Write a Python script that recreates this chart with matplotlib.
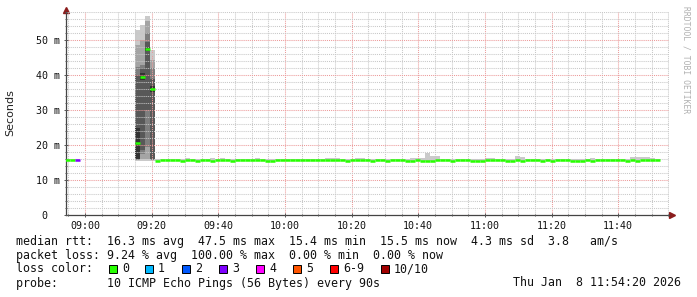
import numpy as np
import matplotlib
matplotlib.use("Agg")
import matplotlib.pyplot as plt
import matplotlib.dates as mdates
from matplotlib.ticker import MultipleLocator
from matplotlib.patches import Rectangle
from matplotlib.transforms import IdentityTransform
from datetime import datetime, timedelta

W, H = 697, 297

# time axis
t_axis = datetime(2026, 1, 8, 8, 54, 20)
t_first = datetime(2026, 1, 8, 8, 54, 2)
step_s = 90

nan = np.nan

# median rtt per 90s step (ms), nan = no answer
median = [
    15.7, 15.7, 15.7, nan, nan, nan, nan, nan, nan, nan,
    nan, nan, nan, nan, 20.5, 39.5, 47.4, 36.1, 15.3, 15.7,
    15.7, 15.7, 15.7, 15.3, 15.7, 15.7, 15.3, 15.7, 15.7, 15.3,
    15.7, 15.7, 15.7, 15.3, 15.7, 15.7, 15.7, 15.7, 15.7, 15.7,
    15.3, 15.3, 15.7, 15.7, 15.7, 15.7, 15.7, 15.7, 15.7, 15.7,
    15.7, 15.7, 15.7, 15.7, 15.7, 15.7, 15.3, 15.7, 15.7, 15.7,
    15.7, 15.3, 15.7, 15.7, 15.3, 15.7, 15.7, 15.7, 15.3, 15.3,
    15.7, 15.3, 15.3, 15.3, 15.7, 15.7, 15.7, 15.3, 15.7, 15.7,
    15.7, 15.3, 15.3, 15.3, 15.7, 15.7, 15.7, 15.7, 15.3, 15.3,
    15.7, 15.3, 15.7, 15.7, 15.7, 15.3, 15.7, 15.3, 15.7, 15.7,
    15.7, 15.3, 15.3, 15.3, 15.7, 15.3, 15.7, 15.7, 15.7, 15.7,
    15.7, 15.7, 15.3, 15.7, 15.3, 15.7, 15.7, 15.7, 15.7,
]

# lost pings out of 10 per step
loss = [
    0, 0, 3, 10, 10, 10, 10, 10, 10, 10,
    10, 10, 10, 10, 0, 0, 0, 0, 0, 0,
    0, 0, 0, 0, 0, 0, 0, 0, 0, 0,
    0, 0, 0, 0, 0, 0, 0, 0, 0, 0,
    0, 0, 0, 0, 0, 0, 0, 0, 0, 0,
    0, 0, 0, 0, 0, 0, 0, 0, 0, 0,
    0, 0, 0, 0, 0, 0, 0, 0, 0, 0,
    0, 0, 0, 0, 0, 0, 0, 0, 0, 0,
    0, 0, 0, 0, 0, 0, 0, 0, 0, 0,
    0, 0, 0, 0, 0, 0, 0, 0, 0, 0,
    0, 0, 0, 0, 0, 0, 0, 0, 0, 0,
    0, 0, 0, 0, 0, 0, 0, 0, 0,
]

# slowest ping per step in the quiet part (ms)
ping_max = [
    15.9, 15.9, 15.9, nan, nan, nan, nan, nan, nan, nan,
    nan, nan, nan, nan, nan, nan, nan, nan, 15.9, 15.9,
    15.9, 15.9, 16.1, 15.9, 16.3, 15.9, 15.9, 15.9, 15.9, 16.3,
    15.9, 16.3, 15.9, 15.9, 15.9, 15.9, 15.9, 15.9, 16.2, 15.9,
    15.9, 15.9, 15.9, 15.9, 15.9, 15.9, 15.9, 15.9, 15.9, 15.9,
    15.9, 15.9, 16.3, 16.3, 16.3, 15.9, 15.9, 15.9, 16.3, 16.3,
    15.9, 15.9, 15.9, 15.9, 15.9, 15.9, 15.9, 15.9, 15.9, 16.3,
    16.3, 16.2, 17.8, 16.8, 16.8, 15.9, 15.9, 15.9, 15.9, 15.9,
    15.9, 15.9, 15.9, 15.9, 16.3, 16.3, 15.9, 15.9, 15.9, 15.9,
    16.9, 16.6, 15.9, 15.9, 15.9, 15.9, 15.9, 15.9, 15.9, 15.9,
    15.9, 15.9, 15.9, 15.9, 15.9, 16.3, 15.9, 15.9, 15.9, 15.9,
    15.9, 15.9, 15.9, 16.7, 16.7, 16.7, 16.7, 16.3, 15.9,
]

# all 10 sorted pings for the burst around 09:20
spike_steps = [14, 15, 16, 17]
spike_pings = [
    [15.5, 15.6, 15.8, 16.0, 16.1, 24.9, 40.0, 42.3, 48.6, 52.9],
    [15.5, 16.0, 17.5, 18.6, 38.5, 40.5, 42.0, 42.9, 50.0, 54.3],
    [15.5, 16.0, 19.5, 30.0, 46.8, 48.0, 49.5, 52.0, 55.5, 56.9],
    [15.5, 15.6, 15.8, 16.0, 35.2, 37.0, 39.0, 42.0, 44.3, 47.1],
]

loss_keys = ["0", "1", "2", "3", "4", "5", "6-9", "10/10"]
loss_cols = ["#26ff00", "#00b8ff", "#0059ff", "#7e00ff", "#ff00ff",
             "#ff5500", "#ff0000", "#a10000"]

legend_lines = [
    "median rtt:  16.3 ms avg  47.5 ms max  15.4 ms min  15.5 ms now  4.3 ms sd  3.8   am/s",
    "packet loss: 9.24 % avg  100.00 % max  0.00 % min  0.00 % now",
    "loss color:",
    "probe:       10 ICMP Echo Pings (56 Bytes) every 90s",
]
stamp = "Thu Jan  8 11:54:20 2026"


def loss_color(n):
    if n >= 10:
        return loss_cols[7]
    if n >= 6:
        return loss_cols[6]
    return loss_cols[n]


fig = plt.figure(figsize=(W / 100, H / 100), dpi=100)
fig.patch.set_facecolor("white")
ax = fig.add_axes([66 / W, (H - 215) / H, 603 / W, 203 / H])

starts = [t_first + timedelta(seconds=step_s * i) for i in range(len(median))]
ends = [s + timedelta(seconds=step_s) for s in starts]
wd = step_s / 86400.0

# smoke for quiet steps
for s, m, top in zip(starts, median, ping_max):
    if np.isnan(m) or np.isnan(top) or top <= m:
        continue
    ax.bar(mdates.date2num(s), top - m, bottom=m, width=wd, align="edge",
           color="#cacaca", linewidth=0, zorder=1)

# smoke for the burst: outer pairs light, inner pairs dark
for k, pings in zip(spike_steps, spike_pings):
    x = mdates.date2num(starts[k])
    for i in range(5):
        g = int(190 / 5 * (5 - (i + 1))) + 50
        ax.bar(x, pings[9 - i] - pings[i], bottom=pings[i], width=wd,
               align="edge", color="#%02x%02x%02x" % (g, g, g),
               linewidth=0, zorder=1)

# median line coloured by loss
for s, e, m, n in zip(starts, ends, median, loss):
    if np.isnan(m):
        continue
    ax.hlines(m, mdates.date2num(s), mdates.date2num(e),
              colors=loss_color(n), linewidth=1.8, zorder=3)

ax.set_xlim(mdates.date2num(t_axis),
            mdates.date2num(t_axis + timedelta(minutes=180.9)))
ax.set_ylim(0, 58)

ax.xaxis.set_major_locator(mdates.MinuteLocator(byminute=[0, 20, 40]))
ax.xaxis.set_minor_locator(mdates.MinuteLocator(byminute=range(0, 60, 5)))
ax.xaxis.set_major_formatter(mdates.DateFormatter("%H:%M"))
ax.yaxis.set_major_locator(MultipleLocator(10))
ax.yaxis.set_minor_locator(MultipleLocator(2))
ax.set_yticks([0, 10, 20, 30, 40, 50])
ax.set_yticklabels(["0  ", "10 m", "20 m", "30 m", "40 m", "50 m"])

ax.set_axisbelow(False)
ax.grid(which="minor", color="#c8c8c8", linestyle=(0, (1, 1)), linewidth=0.75)
ax.grid(which="major", color="#ec9a9a", linestyle=(0, (1, 1)), linewidth=0.75)

for sp in ["top", "right"]:
    ax.spines[sp].set_visible(False)
for sp in ["left", "bottom"]:
    ax.spines[sp].set_color("#444444")
    ax.spines[sp].set_linewidth(0.9)

ax.tick_params(which="both", direction="inout", color="#555555", width=0.7,
               labelsize=7.2, labelcolor="#111111")
ax.tick_params(which="major", length=3, pad=2.5)
ax.tick_params(which="minor", length=2)
for lab in ax.get_xticklabels() + ax.get_yticklabels():
    lab.set_family("DejaVu Sans Mono")

# arrows at the axis ends
ident = IdentityTransform()
ax.plot([66], [H - 10], marker="^", ms=4.2, color="#8b1c1c",
        transform=ident, clip_on=False)
ax.plot([672], [H - 215], marker=">", ms=4.2, color="#8b1c1c",
        transform=ident, clip_on=False)

fig.text(10 / W, 1 - 113 / H, "Seconds", rotation=90, ha="center",
         va="center", fontsize=8, color="#222222")
fig.text(686 / W, 1 - 60 / H, "RRDTOOL / TOBI OETIKER", rotation=270,
         ha="center", va="center", fontsize=5.8, color="#b0b0b0",
         family="DejaVu Sans Mono")


def put(x, y, s):
    fig.text(x / W, 1 - y / H, s, ha="left", va="center", fontsize=8.35,
             family="DejaVu Sans Mono", color="#111111")


for y, line in zip([241, 255, 269, 283], legend_lines):
    put(16, y, line)

box_x = [109, 145, 182, 219, 256, 293, 330, 381]
for bx, key, col in zip(box_x, loss_keys, loss_cols):
    fig.add_artist(Rectangle((bx / W, 1 - 273 / H), 8 / W, 8 / H,
                             transform=fig.transFigure, facecolor=col,
                             edgecolor="black", linewidth=0.7))
    put(bx + 13, 269, key)

put(513, 283, stamp)

fig.savefig("out.png", dpi=100)
